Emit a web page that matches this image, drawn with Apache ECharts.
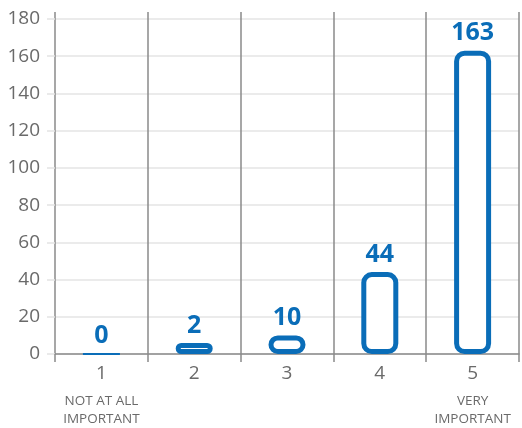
<!DOCTYPE html>
<html>
<head>
<meta charset="utf-8">
<script src="https://cdn.jsdelivr.net/npm/echarts@6/dist/echarts.min.js"></script>
<style>
  html,body{margin:0;padding:0;background:#fff;}
  #chart{width:522px;height:428px;}
</style>
</head>
<body>
<div id="chart"></div>
<script>
// 类别和数值
var categories = ['1', '2', '3', '4', '5'];
var subLabels = ['NOT AT ALL\nIMPORTANT', '', '', '', 'VERY\nIMPORTANT'];
var values = [0, 2, 10, 44, 163];
var yTicks = [0, 20, 40, 60, 80, 100, 120, 140, 160, 180];

var blue = '#0a6db8';
var gray = '#6a6a6a';
var dark = '#8a8a8a';
var light = '#e4e4e4';

function loadChart(){
    var mychart = echarts.init(document.getElementById('chart'));
    // 非零的柱子和等于0的柱子分开画
    var nonZero = values.map(function(v){ return v > 0 ? v : null; });
    var zeros = values.map(function(v){ return v == 0 ? v : null; });
    var labelStyle = {
        show: true,
        position: 'top',
        distance: 5,
        color: blue,
        fontSize: 25,
        fontWeight: 'bold',
        fontFamily: 'Open Sans'
    };
    var option = {
        animation: false,
        grid: [
            {left: 55, right: 3, top: 19, bottom: 74},
            // 竖线比180那条线高一点，用第二个grid画
            {left: 55, right: 3, top: 12, bottom: 74}
        ],
        xAxis: [{
            type: 'category',
            data: categories,
            axisLine: {lineStyle: {color: dark, width: 1.5}},
            axisTick: {show: true, interval: 0, length: 8, lineStyle: {color: dark, width: 1.5}},
            splitLine: {show: false},
            axisLabel: {
                interval: 0,
                margin: 10,
                formatter: function(val, i){
                    var s = subLabels[i];
                    var out = '{n|' + val + '}';
                    if(s){
                        out += '\n' + s.split('\n').map(function(t){ return '{s|' + t + '}'; }).join('\n');
                    }
                    return out;
                },
                rich: {
                    n: {fontSize: 19, color: gray, fontFamily: 'Open Sans', fontWeight: 500, lineHeight: 28, verticalAlign: 'top'},
                    s: {fontSize: 13.5, color: gray, fontFamily: 'Open Sans', fontWeight: 500, lineHeight: 18}
                },
                verticalAlign: 'top'
            }
        }, {
            type: 'category',
            gridIndex: 1,
            data: categories,
            axisLine: {show: false},
            axisTick: {show: false},
            axisLabel: {show: false},
            splitLine: {show: true, interval: 0, lineStyle: {color: dark, width: 1.5}}
        }],
        yAxis: [{
            type: 'value',
            min: yTicks[0],
            max: yTicks[yTicks.length - 1],
            interval: 20,
            axisLine: {show: false},
            axisTick: {show: true, length: 8, lineStyle: {color: light, width: 1.5}},
            splitLine: {lineStyle: {color: light, width: 1.5}},
            axisLabel: {fontSize: 19, color: gray, fontFamily: 'Open Sans', fontWeight: 500, margin: 15}
        }, {
            type: 'value',
            gridIndex: 1,
            show: false,
            splitLine: {show: false}
        }],
        series: [{
            type: 'bar',
            data: nonZero,
            barWidth: 37,
            barMinHeight: 11,
            z: 3,
            itemStyle: {
                color: '#ffffff',
                borderColor: blue,
                borderWidth: 5,
                borderRadius: 8
            },
            label: labelStyle
        }, {
            type: 'bar',
            data: zeros,
            barWidth: 37,
            barGap: '-100%',
            z: 3,
            itemStyle: {
                color: '#ffffff',
                borderColor: blue,
                borderWidth: 2
            },
            label: labelStyle
        }]
    };
    mychart.setOption(option);
}
loadChart();
</script>
</body>
</html>
